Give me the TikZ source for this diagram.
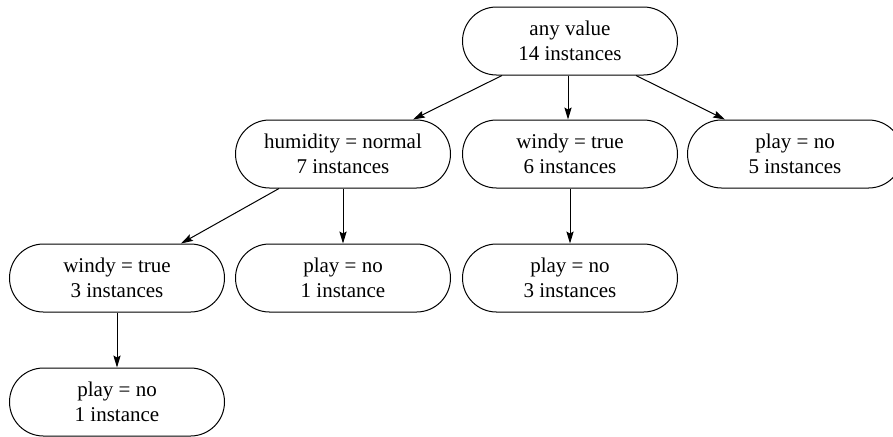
\documentclass[tikz,border=0pt]{standalone}
\usepackage{fontspec}
\setmainfont{Liberation Serif}
\usetikzlibrary{arrows.meta}
\begin{document}
\begin{tikzpicture}[x=0.5pt, y=-0.5pt,
    font=\fontsize{10.5}{12.5}\selectfont,
    box/.style={draw, line width=0.5pt, rounded corners=17pt, align=center,
      minimum width=107.5pt, minimum height=34pt, inner sep=0pt},
    link/.style={line width=0.5pt, -{Stealth[length=6pt, width=3.6pt, inset=1pt]}}]
    \useasboundingbox (0,0) rectangle (893,436);
    % raiz: todos os exemplos
    \node[box] (root) at (570,41) {any value\\14 instances};
    % primeiro nivel
    \node[box] (hum) at (343,154) {humidity = normal\\7 instances};
    \node[box] (wsix) at (570,154) {windy = true\\6 instances};
    \node[box] (pfive) at (795,154) {play = no\\5 instances};
    % segundo nivel
    \node[box] (wthree) at (117,278) {windy = true\\3 instances};
    \node[box] (pone) at (343,278) {play = no\\1 instance};
    \node[box] (pthree) at (570,278) {play = no\\3 instances};
    % terceiro nivel
    \node[box] (pbot) at (117,402) {play = no\\1 instance};
    % ligacoes
    \draw[link] ([xshift=-34pt]root.south) -- ([xshift=35pt]hum.north);
    \draw[link] ([xshift=-1pt]root.south) -- ([xshift=-1pt]wsix.north);
    \draw[link] ([xshift=33pt]root.south) -- ([xshift=-35pt]pfive.north);
    \draw[link] ([xshift=-32pt]hum.south) -- ([xshift=32pt]wthree.north);
    \draw[link] (hum) -- (pone);
    \draw[link] (wsix) -- (pthree);
    \draw[link] (wthree) -- (pbot);
  \end{tikzpicture}
\end{document}
